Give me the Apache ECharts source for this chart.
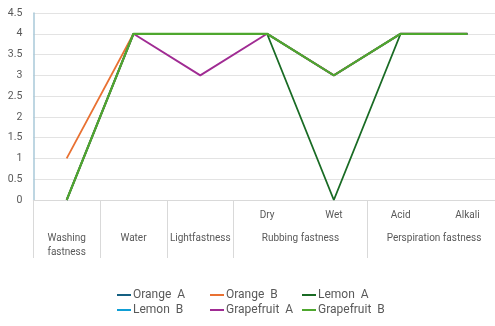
<!DOCTYPE html>
<html>
<head>
<meta charset="utf-8">
<script src="https://cdn.jsdelivr.net/npm/echarts@6/dist/echarts.min.js"></script>
<style>html,body{margin:0;padding:0;background:#fff}#c{width:495px;height:326px}</style>
</head>
<body>
<div id="c"></div>
<script>
// Inner (level-1) categories and their shown labels
const categories = ['Washing fastness', 'Water', 'Lightfastness', 'Dry', 'Wet', 'Acid', 'Alkali'];
const innerLabels = ['', '', '', 'Dry', 'Wet', 'Acid', 'Alkali'];
// Outer (level-2) group labels, positioned at category-unit centres
const groupPositions = [0.5, 1.5, 2.5, 4, 6];
const groupLabels = ['Washing\nfastness', 'Water', 'Lightfastness', 'Rubbing fastness', 'Perspiration fastness'];
// Boundaries that get separator ticks
const separatorIdx = [0, 1, 2, 3, 5];

const seriesNames = ['Orange  A', 'Orange  B', 'Lemon  A', 'Lemon  B', 'Grapefruit  A', 'Grapefruit  B'];
const orangeA = [0, 4, 4, 4, 3, 4, 4];
const orangeB = [1, 4, 4, 4, 3, 4, 4];
const lemonA = [0, 4, 4, 4, 0, 4, 4];
const lemonB = [0, 4, 4, 4, 3, 4, 4];
const grapefruitA = [0, 4, 3, 4, 3, 4, 4];
const grapefruitB = [0, 4, 4, 4, 3, 4, 4];
const seriesData = [orangeA, orangeB, lemonA, lemonB, grapefruitA, grapefruitB];
const colors = ['#156082', '#E97132', '#196B24', '#0F9ED5', '#A02B93', '#4EA72E'];
const widths = [1.6, 1.8, 1.8, 1.6, 1.9, 2.2];

const FONT = 'Roboto';
const TXT = '#595959';

const legendPos = [
  [117, 289], [210, 289], [302, 289],
  [117, 304], [210, 304], [302, 304]
];

const chart = echarts.init(document.getElementById('c'), null, {renderer: 'canvas'});
const option = {
  animation: false,
  backgroundColor: '#fff',
  grid: {left: 33.3, top: 13, width: 467.5, height: 187, containLabel: false, outerBoundsMode: 'none'},
  legend: seriesNames.map((n, i) => ({
    data: [n], left: legendPos[i][0], top: legendPos[i][1], padding: 0,
    icon: 'rect', itemWidth: 14, itemHeight: 2, itemGap: 3,
    textStyle: {fontFamily: FONT, fontSize: 12, color: TXT, padding: [0, 0, 0, -3]}
  })),
  xAxis: [
    {
      type: 'category', data: categories, boundaryGap: true, position: 'bottom',
      axisLine: {show: true, lineStyle: {color: '#d9d9d9', width: 1}},
      axisTick: {show: true, length: 58, lineStyle: {color: '#d9d9d9'},
        interval: (idx) => separatorIdx.indexOf(idx) >= 0},
      axisLabel: {interval: 0, margin: 10, fontFamily: FONT, fontSize: 10, color: TXT,
        formatter: (v, i) => innerLabels[i]},
      splitLine: {show: false}
    },
    {
      type: 'value', min: 0, max: 7, interval: 0.5, position: 'bottom',
      axisLine: {show: false}, axisTick: {show: false}, splitLine: {show: false},
      axisLabel: {margin: 31, fontFamily: FONT, fontSize: 10, color: TXT, lineHeight: 14,
        showMinLabel: true, showMaxLabel: true,
        formatter: (v) => {
          const k = groupPositions.findIndex(p => Math.abs(p - v) < 1e-6);
          return k >= 0 ? groupLabels[k] : '';
        }}
    }
  ],
  yAxis: {
    type: 'value', min: 0, max: 4.5, interval: 0.5,
    axisLine: {show: true, lineStyle: {color: '#a9c9d8', width: 1.5}},
    axisTick: {show: false},
    axisLabel: {margin: 11, fontFamily: FONT, fontSize: 10.5, color: TXT},
    splitLine: {show: true, lineStyle: {color: '#e3e3e3', width: 1}}
  },
  series: seriesNames.map((n, i) => ({
    name: n, type: 'line', xAxisIndex: 0, data: seriesData[i],
    symbol: 'none', smooth: false, color: colors[i],
    lineStyle: {width: widths[i], color: colors[i]}
  }))
};
chart.setOption(option);
</script>
</body>
</html>
